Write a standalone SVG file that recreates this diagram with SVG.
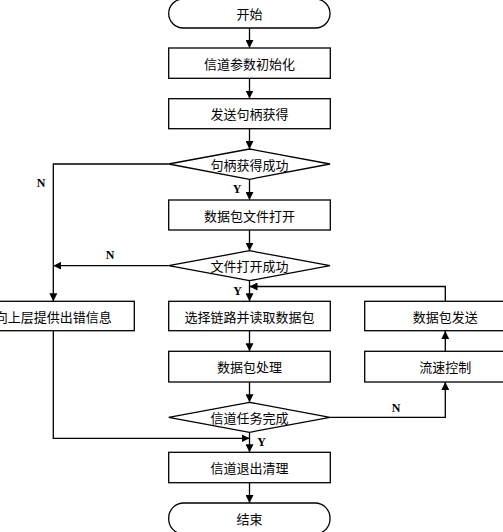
<svg xmlns="http://www.w3.org/2000/svg" width="503" height="532" viewBox="0 0 503 532">
<defs>
<marker id="ah" viewBox="0 0 10 10" refX="10" refY="5" markerWidth="8" markerHeight="8" markerUnits="userSpaceOnUse" orient="auto">
<path d="M0,0 L10,5 L0,10 Z" fill="#000"/>
</marker>
</defs>
<style>
.box{fill:#fff;stroke:#000;stroke-width:1.3}
.t{font-family:"Noto Sans CJK SC","Noto Sans",sans-serif;font-size:13px;fill:#000;text-anchor:middle;dominant-baseline:central}
.yn{font-family:"Liberation Serif",serif;font-weight:bold;font-size:12px;fill:#000;text-anchor:middle;dominant-baseline:central}
.c{fill:none;stroke:#000;stroke-width:1.3;marker-end:url(#ah)}
.l{fill:none;stroke:#000;stroke-width:1.3}
</style>
<rect width="503" height="532" fill="#fff"/>
<g id="connectors">
<path class="c" d="M249.5,28 V48"/>
<path class="c" d="M249.5,78.5 V98.5"/>
<path class="c" d="M249.5,128.5 V149"/>
<path class="c" d="M168.7,164 H53.3 V301.3"/>
<path class="c" d="M249.5,179.3 V200"/>
<path class="c" d="M249.5,230 V250.7"/>
<path class="c" d="M168.7,265.7 H53.3"/>
<path class="c" d="M249.5,280.7 V301.3"/>
<path class="c" d="M445.3,301.3 V286.5 H249.5"/>
<path class="c" d="M249.5,330.7 V351.3"/>
<path class="c" d="M249.5,382 V402.3"/>
<path class="c" d="M330,417.3 H445.3 V382"/>
<path class="c" d="M445.3,351.3 V331"/>
<path class="c" d="M53.3,331 V438.3 H249.5"/>
<path class="c" d="M249.5,432.3 V452.3"/>
<path class="c" d="M249.5,482.7 V503"/>
<text class="yn" x="41" y="183">N</text>
<text class="yn" x="237" y="189">Y</text>
<text class="yn" x="110" y="255">N</text>
<text class="yn" x="237.5" y="290.7">Y</text>
<text class="yn" x="396" y="407.7">N</text>
<text class="yn" x="261.7" y="441.7">Y</text>
</g>
<g id="start">
<rect class="box" x="168.7" y="-1" width="161.3" height="29" rx="14.5" ry="14.5"/>
<text class="t" x="249.5" y="13.5">开始</text>
</g>
<g id="init">
<rect class="box" x="168.7" y="48" width="161.6" height="30.3"/>
<text class="t" x="249.5" y="63.2">信道参数初始化</text>
</g>
<g id="send-handle">
<rect class="box" x="168.7" y="98.7" width="161.6" height="30"/>
<text class="t" x="249.5" y="113.7">发送句柄获得</text>
</g>
<g id="handle-ok">
<polygon class="box" points="249.5,149 330,164 249.5,179.3 168.7,164"/>
<text class="t" x="249.5" y="164">句柄获得成功</text>
</g>
<g id="open-file">
<rect class="box" x="168.7" y="200" width="161.6" height="30"/>
<text class="t" x="249.5" y="215">数据包文件打开</text>
</g>
<g id="open-ok">
<polygon class="box" points="249.5,250.7 330,265.7 249.5,280.7 168.7,265.7"/>
<text class="t" x="249.5" y="265.7">文件打开成功</text>
</g>
<g id="error-info">
<rect class="box" x="-28" y="301.3" width="162.3" height="29.4"/>
<text class="t" x="53.3" y="316">向上层提供出错信息</text>
</g>
<g id="select-read">
<rect class="box" x="168.7" y="301.3" width="161.6" height="29.4"/>
<text class="t" x="249.5" y="316">选择链路并读取数据包</text>
</g>
<g id="pkt-send">
<rect class="box" x="364.7" y="301.3" width="162" height="29.4"/>
<text class="t" x="445.3" y="316">数据包发送</text>
</g>
<g id="pkt-proc">
<rect class="box" x="168.7" y="351.3" width="161.6" height="30.7"/>
<text class="t" x="249.5" y="366.7">数据包处理</text>
</g>
<g id="flow-ctrl">
<rect class="box" x="364.7" y="351.3" width="162" height="30.7"/>
<text class="t" x="445.3" y="366.7">流速控制</text>
</g>
<g id="task-done">
<polygon class="box" points="249.5,402.3 330,417.3 249.5,432.3 168.7,417.3"/>
<text class="t" x="249.5" y="417.3">信道任务完成</text>
</g>
<g id="cleanup">
<rect class="box" x="168.7" y="452.3" width="161.6" height="30.4"/>
<text class="t" x="249.5" y="467.5">信道退出清理</text>
</g>
<g id="end">
<rect class="box" x="168.7" y="503" width="161.3" height="31" rx="15" ry="15"/>
<text class="t" x="249.5" y="518">结束</text>
</g>
</svg>
